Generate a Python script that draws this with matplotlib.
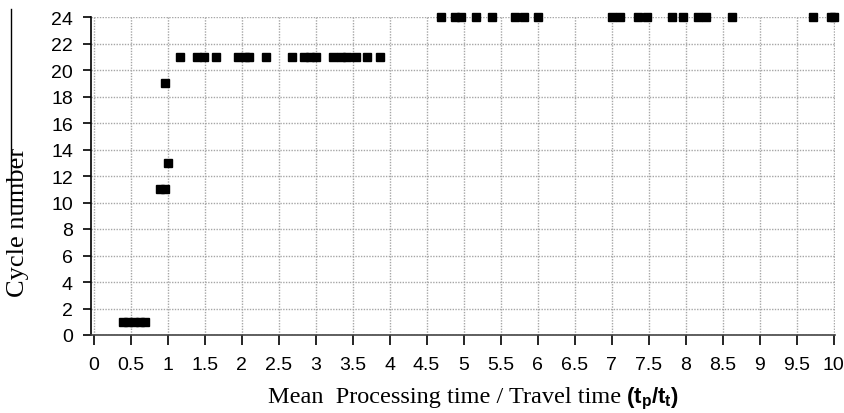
import matplotlib
matplotlib.use('Agg')
import matplotlib.pyplot as plt
from matplotlib import font_manager
from matplotlib.lines import Line2D

# data: ratio tp/tt -> cycle number
x_c1 = [0.40, 0.47, 0.55, 0.63, 0.70]
x_c11 = [0.90, 0.97]
x_c13 = [1.00]
x_c19 = [0.97]
x_c21 = [1.17, 1.40, 1.49, 1.66, 1.95, 2.05, 2.10, 2.33, 2.68, 2.85, 2.93, 3.01,
         3.24, 3.34, 3.43, 3.54, 3.70, 3.87]
x_c24 = [4.70, 4.89, 4.96, 5.17, 5.38, 5.69, 5.82, 6.00, 7.01, 7.12, 7.36, 7.48,
         7.82, 7.96, 8.17, 8.27, 8.63, 9.72, 9.96, 10.0]

xticks = [i * 0.5 for i in range(21)]
xtick_labels = ['0', '0.5', '1', '1.5', '2', '2.5', '3', '3.5', '4', '4.5', '5',
                '5.5', '6', '6.5', '7', '7.5', '8', '8.5', '9', '9.5', '10']
yticks = list(range(0, 25, 2))

names = {f.name for f in font_manager.fontManager.ttflist}
tick_font = 'Liberation Sans Narrow' if 'Liberation Sans Narrow' in names else 'Liberation Sans'
serif = 'Liberation Serif'

fig = plt.figure(figsize=(8.45, 4.14), dpi=100)
ax = fig.add_axes([91/845, 1 - 336/414, (835 - 91)/845, (336 - 18)/414])

xs, ys = [], []
for cyc, vals in [(1, x_c1), (11, x_c11), (13, x_c13), (19, x_c19), (21, x_c21), (24, x_c24)]:
    xs += vals
    ys += [cyc] * len(vals)
ax.plot(xs, ys, 's', color='black', markersize=5.6, linestyle='none', zorder=3, clip_on=False)

ax.set_xlim(-0.035, 10.02)
ax.set_ylim(0, 24)
ax.set_xticks(xticks)
ax.set_xticklabels(xtick_labels)
ax.set_yticks(yticks)

ax.grid(True, color='#a6a6a6', linestyle=(0, (1, 1)), linewidth=1.0)
ax.set_axisbelow(True)
for s in ['top', 'right']:
    ax.spines[s].set_visible(False)
ax.spines['left'].set_color('black')
ax.spines['bottom'].set_color('#444444')
ax.spines['left'].set_linewidth(1.2)
ax.spines['bottom'].set_linewidth(1.2)

ax.tick_params(axis='x', direction='out', length=7, width=1.2, pad=8, colors='black')
ax.tick_params(axis='y', direction='out', length=6, width=1.2, pad=7, colors='black')
for lab in ax.get_xticklabels() + ax.get_yticklabels():
    lab.set_fontfamily(tick_font)
    lab.set_fontsize(14)

fig.text(18/845, 1 - 222/414, 'Cycle number', rotation=90, ha='center', va='center',
         family=serif, fontsize=19)
fig.text(621/845, 1 - 398/414, 'Mean  Processing time / Travel time', ha='right', va='center',
         family=serif, fontsize=17.5)
fig.text(626/845, 1 - 399/414, r'(t$_\mathregular{p}$/t$_\mathregular{t}$)', ha='left', va='center',
         family=tick_font, fontsize=16, fontweight='bold')

# stray vertical line beside the y label in the original
fig.add_artist(Line2D([11/845, 11/845], [1 - 10/414, 1 - 213/414], color='black', linewidth=1))

fig.savefig('out.png', dpi=100)
